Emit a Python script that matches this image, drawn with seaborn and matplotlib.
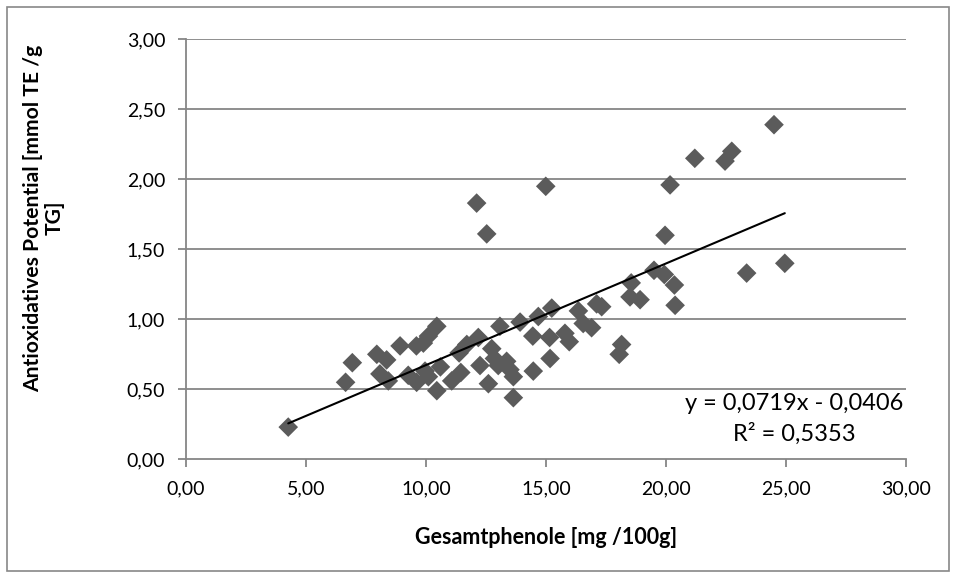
import matplotlib
matplotlib.use("Agg")
import matplotlib.pyplot as plt
import seaborn as sns
import pandas as pd
from matplotlib.patches import Rectangle

# ---- data ----
gesamtphenole = [4.26, 6.65, 6.93, 7.95, 8.36, 8.08, 8.43, 8.92, 9.60, 9.89,
                 10.10, 10.45, 9.26, 9.61, 9.96, 10.10, 10.60, 10.45, 11.07, 11.38,
                 11.45, 11.70, 12.18, 12.25, 12.74, 12.85, 13.01, 13.36, 13.50, 13.64,
                 12.60, 13.64, 13.08, 13.92, 14.68, 15.24, 14.47, 15.17, 14.45, 15.15,
                 15.79, 15.97, 16.35, 16.55, 16.90, 17.11, 17.32, 18.05, 18.15, 18.50,
                 18.55, 18.92, 19.50, 19.93, 20.35, 20.38, 19.96, 20.17, 21.20, 22.46,
                 22.74, 24.50, 23.36, 24.95, 12.11, 12.53, 14.99]
antiox_potential = [0.23, 0.55, 0.69, 0.75, 0.71, 0.61, 0.56, 0.81, 0.81, 0.83,
                    0.88, 0.95, 0.60, 0.55, 0.63, 0.59, 0.66, 0.49, 0.56, 0.76,
                    0.62, 0.82, 0.87, 0.67, 0.79, 0.72, 0.67, 0.70, 0.64, 0.59,
                    0.54, 0.44, 0.95, 0.98, 1.02, 1.08, 0.63, 0.72, 0.88, 0.87,
                    0.90, 0.84, 1.06, 0.97, 0.94, 1.11, 1.09, 0.75, 0.82, 1.16,
                    1.26, 1.14, 1.35, 1.32, 1.245, 1.10, 1.60, 1.96, 2.15, 2.13,
                    2.20, 2.39, 1.33, 1.40, 1.83, 1.61, 1.95]
x_ticks = [0, 5, 10, 15, 20, 25, 30]
y_ticks = [0.0, 0.5, 1.0, 1.5, 2.0, 2.5, 3.0]
x_title = "Gesamtphenole [mg /100g]"
y_title = "Antioxidatives Potential [mmol TE /g\nTG]"
eq_text = "y = 0,0719x - 0,0406"
r2_text = "R² = 0,5353"

df = pd.DataFrame({"x": gesamtphenole, "y": antiox_potential})

sns.set_theme(style="white")
plt.rcParams['font.family'] = ['Lato', 'DejaVu Sans']

W, H = 957, 579
fig = plt.figure(figsize=(W / 100, H / 100), dpi=100)
left, right, top, bottom = 186, 906, 39.3, 459.3
ax = fig.add_axes([left / W, 1 - bottom / H, (right - left) / W, (bottom - top) / H])

grid_c = "#868686"
for yv in y_ticks[1:]:
    ax.axhline(yv, color=grid_c, lw=1.3, zorder=0)

sns.regplot(data=df, x="x", y="y", ax=ax, ci=None, marker="D",
            scatter_kws=dict(s=100, color="#5b5b5b", edgecolor="none", zorder=3, alpha=1),
            line_kws=dict(color="black", lw=1.5, zorder=4), truncate=True)

ax.set_xlim(0, 30)
ax.set_ylim(0, 3)
ax.set_xticks(x_ticks)
ax.set_yticks(y_ticks)
ax.set_xticklabels([f"{v:.2f}".replace(".", ",") for v in x_ticks])
ax.set_yticklabels([f"{v:.2f}".replace(".", ",") for v in y_ticks])
for s in ["top", "right"]:
    ax.spines[s].set_visible(False)
for s in ["left", "bottom"]:
    ax.spines[s].set_color(grid_c)
    ax.spines[s].set_linewidth(1.3)
ax.tick_params(axis="both", which="major", direction="out", length=6, width=1.3,
               color=grid_c, labelsize=14, labelcolor="black", pad=9,
               left=True, bottom=True)
ax.set_xlabel("")
ax.set_ylabel("")

fig.text((left + right) / 2 / W, 1 - 537 / H, x_title, ha="center", va="center",
         fontsize=15.5, fontweight="bold", color="black")
fig.text(44 / W, 1 - 218 / H, y_title, ha="center", va="center", rotation=90,
         multialignment="center", fontsize=15.2, fontweight="bold", color="black",
         linespacing=1.05)

fig.text(794 / W, 1 - 403 / H, eq_text, ha="center", va="center", fontsize=17, color="black")
fig.text(794 / W, 1 - 434 / H, r2_text, ha="center", va="center", fontsize=17, color="black")

fig.patches.append(Rectangle((7 / W, 1 - 571 / H), (949 - 7) / W, (571 - 7) / H,
                             transform=fig.transFigure, fill=False,
                             edgecolor="#888888", lw=1.2))

fig.savefig("out.png", dpi=100)
